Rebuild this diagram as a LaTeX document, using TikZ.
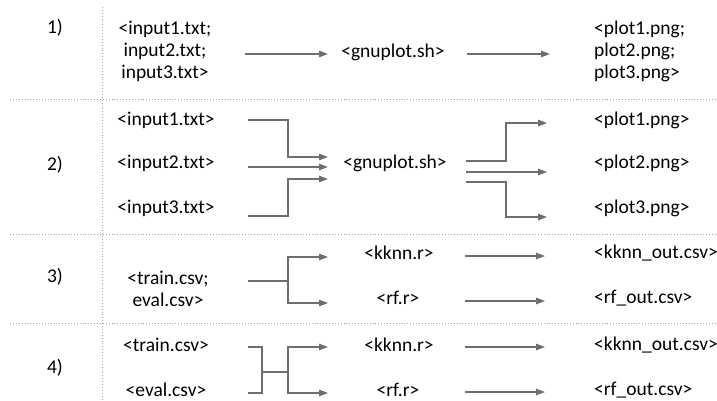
\documentclass[tikz,border=0pt]{standalone}
\usepackage{fontspec}
\setmainfont{Carlito}
\usetikzlibrary{arrows.meta}
\definecolor{linegray}{RGB}{110,110,110}
\definecolor{dotgray}{RGB}{165,165,165}
\begin{document}
\begin{tikzpicture}[x=1pt,y=-1pt,
  lbl/.style={inner sep=0pt, font=\fontsize{19.5}{22}\selectfont},
  conn/.style={draw=linegray, line width=1.3pt},
  arr/.style={conn, -{Triangle[length=9pt,width=6.5pt]}},
  sep/.style={draw=dotgray, line width=0.9pt, dotted}]
\useasboundingbox (0,0) rectangle (717,401);
% separators
\draw[sep] (102,7) -- (102,401);
\draw[sep] (10,99) -- (717,99);
\draw[sep] (10,234) -- (717,234);
\draw[sep] (10,323) -- (717,323);
% row labels
\node[lbl] (n1) at (55,28) {1)};
\node[lbl] (n2) at (55,165) {2)};
\node[lbl] (n3) at (55,277) {3)};
\node[lbl] (n4) at (55,368) {4)};
% row 1
\node[lbl, align=center] (r1in) at (165,51) {<input1.txt;\\input2.txt;\\input3.txt>};
\node[lbl] (r1gp) at (393,52) {<gnuplot.sh>};
\node[lbl, align=left, anchor=west] (r1out) at (594,51) {<plot1.png;\\plot2.png;\\plot3.png>};
\coordinate (r1a) at (245,54); \coordinate (r1b) at (328,54);
\coordinate (r1c) at (467,54); \coordinate (r1d) at (550,54);
\draw[arr] (r1a) -- (r1b);
\draw[arr] (r1c) -- (r1d);
% row 2
\node[lbl] (in1) at (166,120) {<input1.txt>};
\node[lbl] (in2) at (166,163) {<input2.txt>};
\node[lbl] (in3) at (166,208) {<input3.txt>};
\node[lbl] (r2gp) at (395,163) {<gnuplot.sh>};
\node[lbl, anchor=west] (p1) at (594,120) {<plot1.png>};
\node[lbl, anchor=west] (p2) at (594,163) {<plot2.png>};
\node[lbl, anchor=west] (p3) at (594,208) {<plot3.png>};
\coordinate (i1s) at (248,120); \coordinate (i1e) at (328,157);
\coordinate (i2s) at (248,167); \coordinate (i2e) at (328,167);
\coordinate (i3s) at (248,216); \coordinate (i3e) at (328,179);
\draw[arr] (i1s) -- (288,120) -- (288,157) -- (i1e);
\draw[arr] (i2s) -- (i2e);
\draw[arr] (i3s) -- (288,216) -- (288,179) -- (i3e);
\coordinate (o1s) at (466,161); \coordinate (o1e) at (547,123);
\coordinate (o2s) at (466,172); \coordinate (o2e) at (547,172);
\coordinate (o3s) at (466,182); \coordinate (o3e) at (547,217);
\draw[arr] (o1s) -- (506,161) -- (506,123) -- (o1e);
\draw[arr] (o2s) -- (o2e);
\draw[arr] (o3s) -- (506,182) -- (506,217) -- (o3e);
% row 3
\node[lbl, align=center] (r3in) at (168,289) {<train.csv;\\eval.csv>};
\node[lbl] (k3) at (399,253) {<kknn.r>};
\node[lbl] (f3) at (398,298) {<rf.r>};
\node[lbl, anchor=west] (ko3) at (594,253) {<kknn\_out.csv>};
\node[lbl, anchor=west] (fo3) at (594,298) {<rf\_out.csv>};
\coordinate (s3) at (248,281); \coordinate (j3) at (288,281);
\coordinate (t3a) at (328,257); \coordinate (t3b) at (328,303);
\draw[conn] (s3) -- (j3);
\draw[arr] (j3) |- (t3a);
\draw[arr] (j3) |- (t3b);
\coordinate (a3s) at (465,256); \coordinate (a3e) at (545,256);
\coordinate (b3s) at (465,301); \coordinate (b3e) at (545,301);
\draw[arr] (a3s) -- (a3e);
\draw[arr] (b3s) -- (b3e);
% row 4
\node[lbl] (tr4) at (166,345) {<train.csv>};
\node[lbl] (ev4) at (166,390) {<eval.csv>};
\node[lbl] (k4) at (399,345) {<kknn.r>};
\node[lbl] (f4) at (398,390) {<rf.r>};
\node[lbl, anchor=west] (ko4) at (594,345) {<kknn\_out.csv>};
\node[lbl, anchor=west] (fo4) at (594,390) {<rf\_out.csv>};
\coordinate (b4a) at (248,347); \coordinate (b4b) at (248,393);
\coordinate (m4) at (262,372); \coordinate (j4) at (288,372);
\coordinate (t4a) at (328,347); \coordinate (t4b) at (328,393);
\draw[conn] (b4a) -- (262,347) -- (262,393) -- (b4b);
\draw[conn] (m4) -- (j4);
\draw[arr] (j4) |- (t4a);
\draw[arr] (j4) |- (t4b);
\coordinate (a4s) at (465,347); \coordinate (a4e) at (545,347);
\coordinate (b4s) at (465,392); \coordinate (b4e) at (545,392);
\draw[arr] (a4s) -- (a4e);
\draw[arr] (b4s) -- (b4e);
\end{tikzpicture}
\end{document}
